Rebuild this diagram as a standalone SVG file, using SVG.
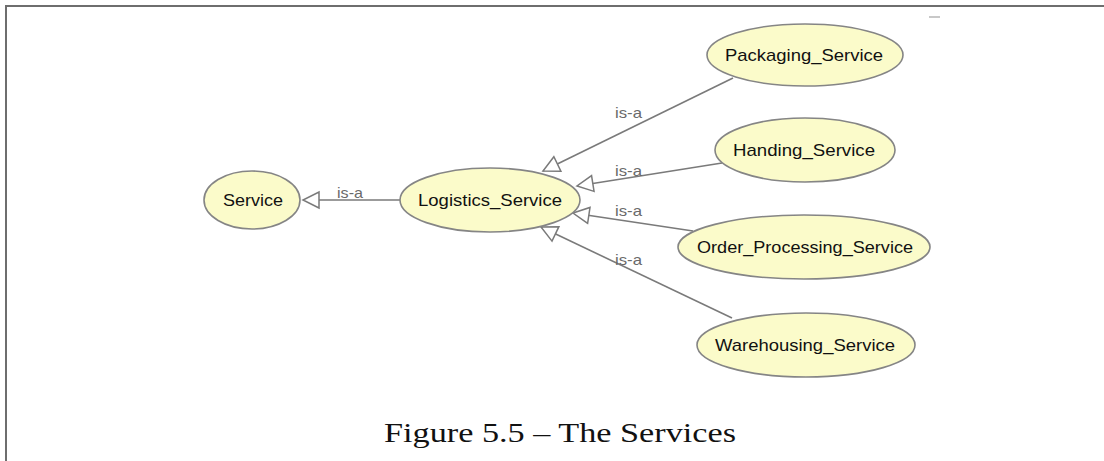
<svg xmlns="http://www.w3.org/2000/svg" width="1104" height="461" viewBox="0 0 1104 461">
<style>
.node ellipse{fill:#fbfbca;stroke:#858585;stroke-width:1.6}
.node text{font-family:"Liberation Sans",Arial,sans-serif;font-size:17px;fill:#111111;text-anchor:middle}
.edge line{stroke:#7a7a7a;stroke-width:1.6}
.lbl{font-family:"Liberation Sans",Arial,sans-serif;font-size:15px;fill:#6a6a6a}
.frame{stroke:#6e6e6e;stroke-width:2;fill:none}
.cap{font-family:"Liberation Serif","Times New Roman",serif;font-size:27px;fill:#111;text-anchor:middle}
</style>
<defs>
<marker id="tri" markerUnits="userSpaceOnUse" markerWidth="20" markerHeight="20" viewBox="0 0 20 20" refX="18" refY="10" orient="auto">
<path d="M2,2 L18,10 L2,18 Z" fill="#ffffff" stroke="#7a7a7a" stroke-width="1.5"/>
</marker>
</defs>
<rect width="1104" height="461" fill="#ffffff"/>
<path class="frame" d="M6,461 V6 H1104"/>
<line x1="929" y1="17" x2="940" y2="17" stroke="#c8c8c8" stroke-width="2"/>
<g id="connectors" class="edge">
<line x1="400" y1="200" x2="303" y2="200" marker-end="url(#tri)"/>
<line x1="733" y1="78" x2="543" y2="171" marker-end="url(#tri)"/>
<line x1="722" y1="163" x2="577" y2="186" marker-end="url(#tri)"/>
<line x1="693" y1="231" x2="573" y2="213" marker-end="url(#tri)"/>
<line x1="732" y1="318" x2="541" y2="227" marker-end="url(#tri)"/>
<text class="lbl" x="337" y="198" textLength="26" lengthAdjust="spacingAndGlyphs">is-a</text>
<text class="lbl" x="615" y="118" textLength="27" lengthAdjust="spacingAndGlyphs">is-a</text>
<text class="lbl" x="615" y="176" textLength="27" lengthAdjust="spacingAndGlyphs">is-a</text>
<text class="lbl" x="615" y="216" textLength="27" lengthAdjust="spacingAndGlyphs">is-a</text>
<text class="lbl" x="615" y="265" textLength="27" lengthAdjust="spacingAndGlyphs">is-a</text>
</g>
<g id="n-service" class="node">
<ellipse cx="252" cy="200" rx="48" ry="29"/>
<text x="253" y="206" textLength="60" lengthAdjust="spacingAndGlyphs">Service</text>
</g>
<g id="n-logistics" class="node">
<ellipse cx="490" cy="200" rx="90" ry="32"/>
<text x="490" y="206" textLength="144" lengthAdjust="spacingAndGlyphs">Logistics_Service</text>
</g>
<g id="n-packaging" class="node">
<ellipse cx="805" cy="55" rx="98" ry="31"/>
<text x="804" y="61" textLength="158" lengthAdjust="spacingAndGlyphs">Packaging_Service</text>
</g>
<g id="n-handing" class="node">
<ellipse cx="805" cy="150" rx="90" ry="32"/>
<text x="804" y="156" textLength="142" lengthAdjust="spacingAndGlyphs">Handing_Service</text>
</g>
<g id="n-order" class="node">
<ellipse cx="804" cy="247" rx="126" ry="32"/>
<text x="805" y="253" textLength="216" lengthAdjust="spacingAndGlyphs">Order_Processing_Service</text>
</g>
<g id="n-warehousing" class="node">
<ellipse cx="806" cy="345" rx="109" ry="32"/>
<text x="805" y="351" textLength="180" lengthAdjust="spacingAndGlyphs">Warehousing_Service</text>
</g>
<text class="cap" x="560" y="442" textLength="352" lengthAdjust="spacingAndGlyphs">Figure 5.5 – The Services</text>
</svg>
